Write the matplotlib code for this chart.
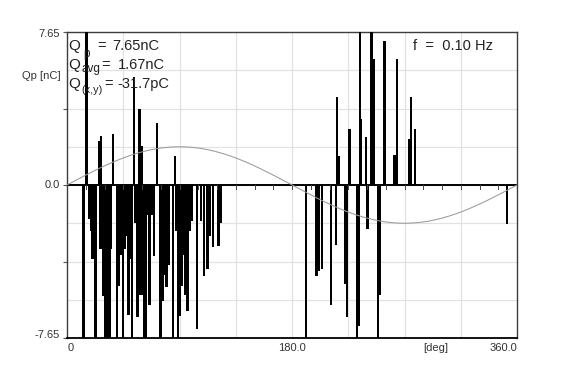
import numpy as np
import matplotlib
matplotlib.use("Agg")
import matplotlib.pyplot as plt

plt.rcParams['font.family'] = ['Liberation Sans', 'DejaVu Sans']

# ---- data (phase in degrees, charge in nC) ----
pos_left_deg = [15.4, 25.4, 27.0, 36.6, 53.6, 57.8, 60.0, 71.8, 86.2]
pos_left_val = [7.65, 2.2, 2.46, 2.54, 5.4, 3.8, 1.96, 3.1, 1.46]

neg_left_deg = [13.2, 18.0, 19.6, 20.4, 21.6, 22.8, 26.8, 28.0, 29.2, 30.8, 32.4, 34.0, 35.2,
                39.8, 41.2, 42.8, 44.6, 46.0, 47.6, 49.0, 50.4, 51.8, 54.8, 56.2, 58.8, 60.0,
                61.6, 63.2, 64.8, 65.8, 67.6, 69.6, 74.8, 76.4, 78.0, 79.6, 81.2, 84.8, 87.2,
                88.6, 90.0, 91.6, 93.2, 94.6, 96.2, 98.0, 99.6, 104.0, 107.2, 109.6, 112.4,
                114.4, 116.6, 121.2, 122.8]
neg_left_val = [-7.65, -1.7, -2.3, -3.7, -2.3, -7.65, -3.2, -3.2, -5.56, -7.65, -7.65, -7.65, -3.2,
                -7.65, -5.06, -3.5, -7.65, -3.2, -2.56, -6.5, -3.7, -7.65, -1.9, -6.6, -5.5, -5.5,
                -7.65, -7.65, -1.5, -6.0, -1.5, -3.56, -7.65, -5.8, -4.5, -5.1, -4.0, -7.65, -2.3,
                -7.65, -6.56, -5.06, -3.5, -5.5, -6.3, -2.3, -1.8, -7.2, -1.8, -4.56, -4.2,
                -2.56, -3.1, -3.06, -1.9]

pos_right_deg = [215.8, 217.0, 225.8, 234.2, 235.2, 239.0, 243.4, 244.4, 245.4, 254.0,
                 261.8, 264.0, 273.8, 275.2, 278.4]
pos_right_val = [4.38, 1.46, 2.79, 7.65, 3.3, 2.4, 7.65, 2.9, 6.3, 7.2,
                 1.5, 6.3, 2.3, 4.38, 2.8]

neg_right_deg = [191.2, 199.4, 201.0, 203.8, 211.0, 215.2, 222.2, 223.8, 232.0, 233.0,
                 240.2, 248.6, 249.8, 351.8]
neg_right_val = [-7.65, -4.56, -4.3, -4.2, -5.98, -2.98, -4.94, -6.6, -7.65, -7.06,
                 -2.2, -7.65, -5.5, -1.93]

q_max = 7.65
sine_amplitude = 1.9125
y_tick_labels = ['7.65', '0.0', '-7.65']
x_tick_labels = ['0', '180.0', '360.0']
stat_names = ['p', 'avg', '(x,y)']
stat_values = ['7.65nC', '1.67nC', '-31.7pC']
freq_text = 'f  =  0.10 Hz'

W, H = 570, 380
fig = plt.figure(figsize=(W / 100, H / 100), dpi=100)
fig.patch.set_facecolor('white')
L, R, T, B = 67, 517, 32, 338
ax = fig.add_axes([L / W, 1 - B / H, (R - L) / W, (B - T) / H])
ax.set_xlim(0, 360)
ax.set_ylim(-q_max, q_max)


def px(x, y):
    return x / W, 1 - y / H


# grid
for gx in np.arange(45, 360, 45):
    ax.axvline(gx, color='#e2e2e2', lw=0.9, zorder=0)
for gy in np.arange(-3, 4) * q_max / 4:
    ax.axhline(gy, color='#e2e2e2', lw=0.9, zorder=0)

# bars
deg = pos_left_deg + neg_left_deg + pos_right_deg + neg_right_deg
val = pos_left_val + neg_left_val + pos_right_val + neg_right_val
ax.bar(deg, val, width=2.0, color='black', linewidth=0, zorder=3)

# zero line with small ticks
ax.axhline(0, color='black', lw=1.4, zorder=4)
for tx in np.arange(15, 360, 15):
    ax.plot([tx, tx], [0, -0.2], color='#444444', lw=0.7, zorder=4)

# reference sine
xs = np.linspace(0, 360, 721)
ax.plot(xs, sine_amplitude * np.sin(np.radians(xs)), color='#9a9a9a', lw=0.75, zorder=5)

# spines / ticks
for s in ['left', 'top', 'right']:
    ax.spines[s].set_color('#3c3c3c')
    ax.spines[s].set_linewidth(1.0)
ax.spines['bottom'].set_color('black')
ax.spines['bottom'].set_linewidth(1.3)
ax.set_xticks([])
ax.set_yticks(np.array([-2, -1, 0, 1, 2]) * q_max / 2)
ax.set_yticklabels([])
ax.tick_params(axis='y', length=3, color='#555555', width=0.8)

# tick labels
tc = '#333333'
fig.text(*px(60, 34), y_tick_labels[0], ha='right', va='center', fontsize=8, color=tc)
fig.text(*px(60, 185), y_tick_labels[1], ha='right', va='center', fontsize=8, color=tc)
fig.text(*px(60, 335), y_tick_labels[2], ha='right', va='center', fontsize=8, color=tc)
fig.text(*px(61, 76), 'Qp [nC]', ha='right', va='center', fontsize=8, color=tc)
fig.text(*px(68, 348), x_tick_labels[0], ha='left', va='center', fontsize=8, color=tc)
fig.text(*px(292, 348), x_tick_labels[1], ha='center', va='center', fontsize=8, color=tc)
fig.text(*px(517, 348), x_tick_labels[2], ha='right', va='center', fontsize=8, color=tc)
fig.text(*px(436, 348), '[deg]', ha='center', va='center', fontsize=8, color=tc)

# statistics text
qc = '#222222'
line_y = [46, 65, 84]
sub_y = [54, 69, 90]
eq_x = [97, 101, 104]
val_x = [112, 118, 117]
sub_x = [83, 82, 81]
sub_fs = [8.5, 8.5, 7.8]
for i in range(3):
    fig.text(*px(68, line_y[i]), 'Q', ha='left', va='center', fontsize=11, color=qc)
    fig.text(*px(sub_x[i], sub_y[i]), stat_names[i], ha='left', va='center', fontsize=sub_fs[i], color=qc)
    fig.text(*px(eq_x[i], line_y[i]), '=', ha='left', va='center', fontsize=10.5, color=qc)
    fig.text(*px(val_x[i], line_y[i]), stat_values[i], ha='left', va='center', fontsize=10.5, color=qc)

fig.text(*px(413, 46), freq_text, ha='left', va='center', fontsize=10.5, color=qc)

fig.savefig('out.png', dpi=100)
